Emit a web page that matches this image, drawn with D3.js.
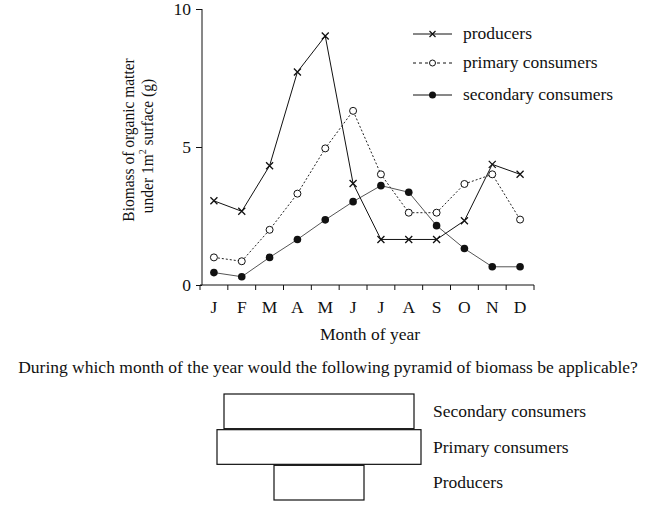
<!DOCTYPE html>
<html><head><meta charset="utf-8">
<script src="https://cdn.jsdelivr.net/npm/d3@7"></script>
<style>body{margin:0;background:#fff}svg{display:block}text{font-family:"Liberation Serif","DejaVu Serif",serif;fill:#111}</style>
</head><body><svg id="c" width="672" height="505"></svg>
<script>
const months = ["J","F","M","A","M","J","J","A","S","O","N","D"];
const producers = [3.05,2.67,4.32,7.72,9.02,3.68,1.65,1.65,1.65,2.33,4.37,4.01];
const primary = [1.0,0.86,2.0,3.31,4.95,6.31,4.01,2.62,2.62,3.66,4.01,2.37];
const secondary = [0.45,0.30,1.0,1.65,2.36,3.02,3.6,3.36,2.15,1.32,0.66,0.66];
const yTicks = [0,5,10];
const seriesNames = ["producers","primary consumers","secondary consumers"];
const pyramidLevels = ["Secondary consumers","Primary consumers","Producers"];
const pyramidWidths = [190,204,90];
const question = "During which month of the year would the following pyramid of biomass be applicable?";

const FS = "17.5px";
const svg = d3.select("#c");
const x = d3.scaleBand().domain(d3.range(12)).range([200,534]).padding(0);
const y = d3.scaleLinear().domain([0,10]).range([285,9]);

// axes
const yAxis = d3.axisLeft(y).tickValues(yTicks).tickSize(6).tickPadding(5);
const gy = svg.append("g").attr("transform","translate(202,0)").call(yAxis);
gy.select(".domain").attr("stroke","#111").attr("d","M0,9V285");
gy.selectAll(".tick line").attr("stroke","#111");
gy.selectAll(".tick text").style("font-size",FS).attr("font-family","Liberation Serif").attr("fill","#111");

const gx = svg.append("g").attr("transform","translate(0,285)");
gx.append("line").attr("x1",200).attr("x2",534).attr("stroke","#111");
gx.selectAll("line.t").data(d3.range(13)).join("line").attr("class","t")
  .attr("x1",i=>200+i*x.step()).attr("x2",i=>200+i*x.step()).attr("y1",0).attr("y2",5).attr("stroke","#111");
gx.selectAll("text").data(months).join("text")
  .attr("x",(d,i)=>x(i)+x.bandwidth()/2).attr("y",28).attr("text-anchor","middle")
  .style("font-size",FS).text(d=>d);

svg.append("text").attr("x",370).attr("y",340).attr("text-anchor","middle").style("font-size",FS).text("Month of year");

svg.append("text").attr("transform","translate(134,140) rotate(-90) scale(0.91,1)").attr("text-anchor","middle")
  .style("font-size","17px").text("Biomass of organic matter");
const t2 = svg.append("text").attr("transform","translate(153,146) rotate(-90) scale(0.91,1)").attr("text-anchor","middle").style("font-size","17px");
t2.append("tspan").text("under 1m");
t2.append("tspan").attr("dy",-7).style("font-size","11px").text("2");
t2.append("tspan").attr("dy",7).text(" surface (g)");

const cx = i => x(i)+x.bandwidth()/2;
const line = d3.line().x((d,i)=>cx(i)).y(d=>y(d));

function crossPath(px,py,r){return `M${px-r},${py-r}L${px+r},${py+r}M${px-r},${py+r}L${px+r},${py-r}`;}

// series lines
svg.append("path").datum(primary).attr("d",line).attr("fill","none").attr("stroke","#222").attr("stroke-width",1).attr("stroke-dasharray","2,2");
svg.append("path").datum(secondary).attr("d",line).attr("fill","none").attr("stroke","#555").attr("stroke-width",1);
svg.append("path").datum(producers).attr("d",line).attr("fill","none").attr("stroke","#111").attr("stroke-width",1);

svg.selectAll("circle.p").data(primary).join("circle").attr("class","p")
  .attr("cx",(d,i)=>cx(i)).attr("cy",d=>y(d)).attr("r",3.5).attr("fill","#fff").attr("stroke","#111").attr("stroke-width",1);
svg.selectAll("circle.s").data(secondary).join("circle").attr("class","s")
  .attr("cx",(d,i)=>cx(i)).attr("cy",d=>y(d)).attr("r",3.8).attr("fill","#111");
svg.selectAll("path.x").data(producers).join("path").attr("class","x")
  .attr("d",(d,i)=>crossPath(cx(i),y(d),3.5)).attr("stroke","#111").attr("stroke-width",1.3);

// legend
const legY = [34,63,95];
const lg = svg.append("g");
seriesNames.forEach((n,k)=>{
  const ly = legY[k];
  const l = lg.append("line").attr("x1",413).attr("x2",452).attr("y1",ly).attr("y2",ly).attr("stroke","#111");
  if(k===1) l.attr("stroke-dasharray","3,3");
  if(k===0) lg.append("path").attr("d",crossPath(432.5,ly,3)).attr("stroke","#111").attr("stroke-width",1.2);
  if(k===1) lg.append("circle").attr("cx",432.5).attr("cy",ly).attr("r",3).attr("fill","#fff").attr("stroke","#111");
  if(k===2) lg.append("circle").attr("cx",432.5).attr("cy",ly).attr("r",3.5).attr("fill","#111");
  lg.append("text").attr("x",463).attr("y",ly+5).style("font-size",FS).text(n);
});

// question
svg.append("text").attr("x",328).attr("y",373).attr("text-anchor","middle").style("font-size",FS).text(question);

// pyramid
const pw = d3.scaleLinear().domain([0,204]).range([0,204]);
const py = d3.scaleBand().domain(pyramidLevels).range([394,501]).paddingInner(0);
const centerX = 319;
const pg = svg.append("g");
pyramidLevels.forEach((lv,k)=>{
  const w = pw(pyramidWidths[k]);
  pg.append("rect").attr("x",centerX-w/2).attr("y",py(lv)).attr("width",w).attr("height",py.bandwidth()-1)
    .attr("fill","#fff").attr("stroke","#111").attr("stroke-width",1.2);
  pg.append("text").attr("x",433).attr("y",py(lv)+py.bandwidth()/2+5).style("font-size",FS).text(lv);
});
</script></body></html>
